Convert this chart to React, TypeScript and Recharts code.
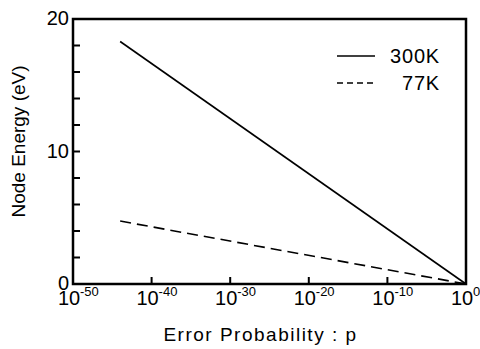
import { Legend, Line, LineChart, ReferenceArea, XAxis, YAxis } from "recharts";

// x values are exponents of the error probability p (p = 10^x)
const xTicks = [-50, -40, -30, -20, -10, 0];
const yTicks = [0, 2, 4, 6, 8, 10, 12, 14, 16, 18, 20];
const yLabels = [0, 10, 20];

const k300 = [
  { x: -44, e: 18.3 },
  { x: 0, e: 0 },
];
const k77 = [
  { x: -44, e: 4.75 },
  { x: 0, e: 0 },
];

const series = [
  { name: "300K", data: k300, dash: undefined, legendDash: undefined },
  { name: "77K", data: k77, dash: "11 6", legendDash: "6 4" },
];

const FONT = "'Liberation Sans', Arial, sans-serif";

function BottomTick({ x, y, payload }: any) {
  const v = payload.value;
  const inner = v !== -50 && v !== 0;
  return (
    <g>
      {inner && <line x1={x} x2={x} y1={y} y2={y - 7} stroke="#000" strokeWidth={2} />}
      <text x={x - 4} y={y + 21} textAnchor="middle" fontSize={20} fontFamily={FONT} fill="#000">
        10
      </text>
      <text x={x + 7} y={y + 12} textAnchor="start" fontSize={13} fontFamily={FONT} fill="#000">
        {v}
      </text>
    </g>
  );
}

function TopTick({ x, y, payload }: any) {
  const v = payload.value;
  if (v === -50 || v === 0) return <g />;
  return <line x1={x} x2={x} y1={y} y2={y + 7} stroke="#000" strokeWidth={2} />;
}

function LeftTick({ x, y, payload }: any) {
  const v = payload.value;
  return (
    <g>
      <line x1={x} x2={x + 7} y1={y} y2={y} stroke="#000" strokeWidth={2} />
      {yLabels.includes(v) && (
        <text x={x - 4} y={y + 6} textAnchor="end" fontSize={20} fontFamily={FONT} fill="#000">
          {v}
        </text>
      )}
    </g>
  );
}

function RightTick({ x, y }: any) {
  return <line x1={x} x2={x - 7} y1={y} y2={y} stroke="#000" strokeWidth={2} />;
}

function LegendBox() {
  return (
    <svg width={120} height={50}>
      {series.map((s, i) => (
        <g key={s.name}>
          <line
            x1={7}
            x2={45}
            y1={12 + i * 27}
            y2={12 + i * 27}
            stroke="#000"
            strokeWidth={1.6}
            strokeDasharray={s.legendDash}
          />
          <text
            x={110}
            y={19 + i * 27}
            textAnchor="end"
            fontSize={20}
            letterSpacing={0.8}
            fontFamily={FONT}
            fill="#000"
          >
            {s.name}
          </text>
        </g>
      ))}
    </svg>
  );
}

export default function App() {
  return (
    <div style={{ position: "absolute", left: 0, top: 0, background: "#fff" }}>
      <LineChart width={480} height={349} margin={{ top: 19, right: 14, bottom: 0, left: 0 }}>
        <XAxis
          xAxisId="b"
          type="number"
          dataKey="x"
          domain={[-50, 0]}
          ticks={xTicks}
          tick={<BottomTick />}
          tickLine={false}
          tickSize={0}
          tickMargin={0}
          height={65}
          axisLine={false}
          interval={0}
          label={({ viewBox }: any) => (
            <text
              x={viewBox.x + viewBox.width / 2 - 9}
              y={viewBox.y + 57}
              textAnchor="middle"
              fontSize={19}
              letterSpacing={1.5}
              fontFamily={FONT}
              fill="#000"
            >
              Error Probability : p
            </text>
          )}
        />
        <XAxis
          xAxisId="t"
          orientation="top"
          type="number"
          dataKey="x"
          domain={[-50, 0]}
          ticks={xTicks}
          tick={<TopTick />}
          tickLine={false}
          tickSize={0}
          tickMargin={0}
          height={0}
          axisLine={false}
          interval={0}
        />
        <YAxis
          yAxisId="l"
          type="number"
          domain={[0, 20]}
          ticks={yTicks}
          tick={<LeftTick />}
          tickLine={false}
          tickSize={0}
          tickMargin={0}
          width={73}
          axisLine={false}
          interval={0}
          label={({ viewBox }: any) => (
            <text
              transform={`translate(25, ${viewBox.y + viewBox.height / 2 - 10}) rotate(-90)`}
              textAnchor="middle"
              fontSize={19}
              fontFamily={FONT}
              fill="#000"
            >
              Node Energy (eV)
            </text>
          )}
        />
        <YAxis
          yAxisId="r"
          orientation="right"
          type="number"
          domain={[0, 20]}
          ticks={yTicks}
          tick={<RightTick />}
          tickLine={false}
          tickSize={0}
          tickMargin={0}
          width={0}
          axisLine={false}
          interval={0}
        />
        <ReferenceArea
          xAxisId="b"
          yAxisId="l"
          x1={-50}
          x2={0}
          y1={0}
          y2={20}
          fill="none"
          fillOpacity={0}
          stroke="#000"
          strokeWidth={2.5}
          strokeOpacity={1}
          ifOverflow="visible"
        />
        <Legend
          layout="vertical"
          align="center"
          verticalAlign="middle"
          content={<LegendBox />}
          wrapperStyle={{ position: "absolute", left: 330, top: 44, width: 120 }}
        />
        {series.map((s) => (
          <Line
            key={s.name}
            xAxisId="b"
            yAxisId="l"
            name={s.name}
            data={s.data}
            dataKey="e"
            stroke="#000"
            strokeWidth={1.6}
            strokeDasharray={s.dash}
            dot={false}
            activeDot={false}
            isAnimationActive={false}
          />
        ))}
      </LineChart>
    </div>
  );
}
